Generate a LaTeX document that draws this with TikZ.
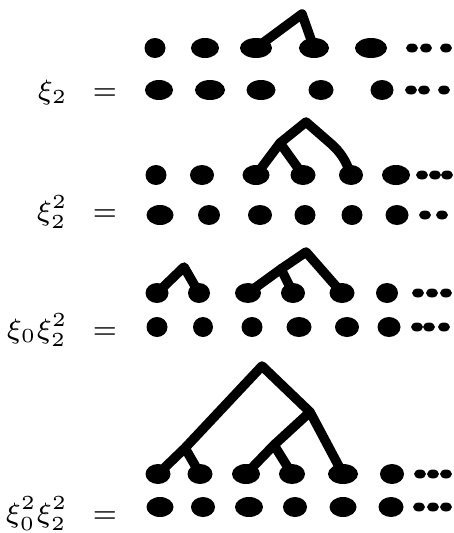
\documentclass[tikz,border=0pt]{standalone}
\usetikzlibrary{shapes.geometric}
% labels are set at a small design size and enlarged, which gives wide, heavy glyphs
\newcommand\biglabel[1]{\scalebox{4}{\fontsize{7}{8}\selectfont$#1$}}
\begin{document}
\begin{tikzpicture}[x=1pt,y=-1pt,
  blob/.style={ellipse, fill=black, inner sep=0pt, minimum width=#1},
  blob/.default=27pt,
  bigblob/.style={blob=#1, minimum height=20pt},
  bigblob/.default=27pt,
  tiny/.style={ellipse, fill=black, inner sep=0pt, minimum width=12pt, minimum height=9pt},
  branch/.style={line width=9.5pt, line cap=round, line join=round},
  lbl/.style={anchor=base east, inner sep=0pt},
  eq/.style={anchor=base, inner sep=0pt}]
\useasboundingbox (0,0) rectangle (454,533);
\clip (0,0) rectangle (454,533);

% ---------- xi_2 ----------
\node[lbl] (l1) at (68,99) {\biglabel{\xi_2}};
\node[eq]  (e1) at (105,99) {\biglabel{=}};
\foreach \n/\x/\w in {a/155/21pt, b/205/28pt, c/256/32pt, d/314/30pt, e/371/32pt}
  \node[bigblob=\w] (r1t\n) at (\x,48) {};
\foreach \n/\x/\w in {a/159/28pt, b/210/30pt, c/261/29pt, d/321/25pt, e/382/23pt}
  \node[bigblob=\w] (r1b\n) at (\x,90) {};
\foreach \n/\x in {a/412, b/426, c/446}
  \node[tiny] (r1ts\n) at (\x,48) {};
\foreach \n/\x in {a/411, b/424, c/444}
  \node[tiny] (r1bs\n) at (\x,90) {};
\coordinate (t1) at (302,14);
\draw[branch] (r1tc.center) -- (t1) -- (r1td.center);

% ---------- xi_2^2 ----------
\node[lbl] (l2) at (68,220.5) {\biglabel{\xi_2^2}};
\node[eq]  (e2) at (105,220.5) {\biglabel{=}};
\foreach \n/\x/\w in {a/156/21pt, b/202/24pt, c/256/27pt, d/303/25pt, e/351/24pt, f/396/28pt}
  \node[bigblob=\w] (r2t\n) at (\x,175) {};
\foreach \n/\x/\w in {a/160/27pt, b/209/22pt, c/260/24pt, d/305/21pt, e/352/21pt, f/397/23pt}
  \node[bigblob=\w] (r2b\n) at (\x,215) {};
\foreach \n/\x in {a/422, b/435, c/447}
  \node[tiny] (r2ts\n) at (\x,175) {};
\foreach \n/\x in {a/425, b/442}
  \node[tiny] (r2bs\n) at (\x,215) {};
\coordinate (t2) at (306,122);
\coordinate (u2) at (280,143);
\coordinate (k2) at (329,142);
\draw[branch] (r2tc.center) -- (u2) -- (t2) -- (k2) to[out=-40,in=110] (r2te.center);
\draw[branch] (u2) -- (r2td.center);

% ---------- xi_0 xi_2^2 ----------
\node[lbl] (l3) at (68,338.5) {\biglabel{\xi_0\xi_2^2}};
\node[eq]  (e3) at (105,338.5) {\biglabel{=}};
\foreach \n/\x/\w in {a/157/23pt, b/199/22pt, c/248/26pt, d/293/24pt, e/342/25pt, f/387/22pt}
  \node[bigblob=\w] (r3t\n) at (\x,293) {};
\foreach \n/\x/\w in {a/157/21pt, b/203/20pt, c/252/21pt, d/299/25pt, e/347/24pt, f/389/23pt}
  \node[bigblob=\w] (r3b\n) at (\x,327) {};
\foreach \n/\x in {a/418, b/432, c/446}
  \node[tiny] (r3ts\n) at (\x,293) {};
\foreach \n/\x in {a/417, b/429, c/444}
  \node[tiny] (r3bs\n) at (\x,327) {};
\coordinate (t3a) at (184,267);
\draw[branch] (r3ta.center) -- (t3a) -- (r3tb.center);
\coordinate (t3b) at (306,252);
\coordinate (u3) at (281,269);
\draw[branch] (r3tc.center) -- (u3) -- (t3b) -- (r3te.center);
\draw[branch] (u3) -- (r3td.center);

% ---------- xi_0^2 xi_2^2 ----------
\node[lbl] (l4) at (68,522) {\biglabel{\xi_0^2\xi_2^2}};
\node[eq]  (e4) at (105,522) {\biglabel{=}};
\foreach \n/\x/\w in {a/158/25pt, b/200/25pt, c/246/28pt, d/292/26pt, e/343/30pt, f/392/24pt}
  \node[bigblob=\w] (r4t\n) at (\x,474) {};
\foreach \n/\x/\w in {a/160/27pt, b/203/24pt, c/249/28pt, d/295/24pt, e/343/27pt, f/391/25pt}
  \node[bigblob=\w] (r4b\n) at (\x,507) {};
\foreach \n/\x in {a/420, b/433, c/446}
  \node[tiny] (r4ts\n) at (\x,474) {};
\foreach \n/\x in {a/419, b/433, c/446}
  \node[tiny] (r4bs\n) at (\x,507) {};
\coordinate (t4)  at (262,366);
\coordinate (u4)  at (185,448);
\coordinate (v4)  at (310,412);
\coordinate (w4)  at (274,445);
\draw[branch] (r4ta.center) -- (u4) -- (t4) -- (v4) -- (r4te.center);
\draw[branch] (u4) -- (r4tb.center);
\draw[branch] (v4) -- (w4) -- (r4tc.center);
\draw[branch] (w4) -- (r4td.center);
\end{tikzpicture}
\end{document}
